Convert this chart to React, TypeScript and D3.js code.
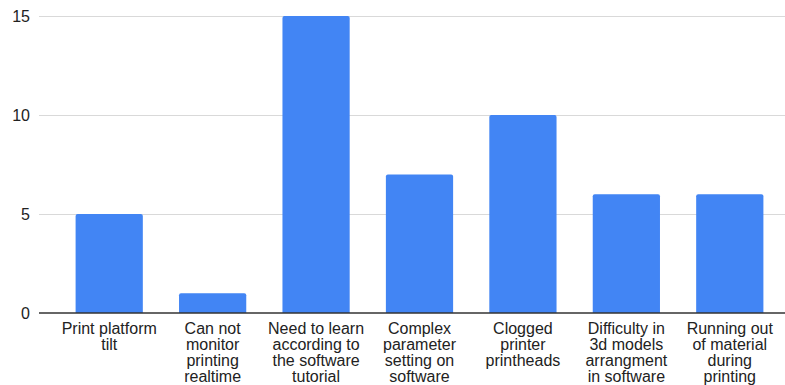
import React from "react";
import * as d3 from "d3";

const categories: string[][] = [
  ["Print platform", "tilt"],
  ["Can not", "monitor", "printing", "realtime"],
  ["Need to learn", "according to", "the software", "tutorial"],
  ["Complex", "parameter", "setting on", "software"],
  ["Clogged", "printer", "printheads"],
  ["Difficulty in", "3d models", "arrangment", "in software"],
  ["Running out", "of material", "during", "printing"],
];
const values: number[] = [5, 1, 15, 7, 10, 6, 6];
const yTicks: number[] = [0, 5, 10, 15];

const W = 785;
const H = 385;
const gridLeft = 39;
const gridRight = 785;

export default function App() {
  const y = d3.scaleLinear().domain([0, 15]).range([313, 16]);
  const x = d3
    .scaleBand<number>()
    .domain(d3.range(categories.length))
    .range([57.5, 781.5])
    .paddingInner(0.35)
    .paddingOuter(0.175);

  const font = "Arial, 'Liberation Sans', Helvetica, sans-serif";

  return (
    <svg
      width={W}
      height={H}
      style={{ position: "absolute", left: 0, top: 0, background: "#fff" }}
      fontFamily={font}
    >
      {yTicks.map((t) => (
        <g key={t}>
          {t !== 0 && (
            <line
              x1={gridLeft}
              x2={gridRight}
              y1={Math.round(y(t)) + 0.5}
              y2={Math.round(y(t)) + 0.5}
              stroke="#d9d9d9"
              strokeWidth={1.2}
            />
          )}
          <text
            x={30}
            y={y(t) + 5.5}
            textAnchor="end"
            fontSize={16}
            fill="#222"
          >
            {t}
          </text>
        </g>
      ))}
      {values.map((v, i) => (
        <path
          key={i}
          d={(() => {
            const x0 = x(i)!;
            const w = x.bandwidth();
            const top = y(v);
            const bot = y(0);
            const r = 2;
            return `M${x0},${bot}V${top + r}Q${x0},${top} ${x0 + r},${top}H${
              x0 + w - r
            }Q${x0 + w},${top} ${x0 + w},${top + r}V${bot}Z`;
          })()}
          fill="#4285f4"
        />
      ))}
      <line
        x1={gridLeft}
        x2={gridRight}
        y1={y(0)}
        y2={y(0)}
        stroke="#333"
        strokeWidth={1.3}
      />
      {categories.map((lines, i) => (
        <text
          key={i}
          x={x(i)! + x.bandwidth() / 2}
          y={333.5}
          textAnchor="middle"
          fontSize={16}
          fill="#222"
        >
          {lines.map((l, j) => (
            <tspan key={j} x={x(i)! + x.bandwidth() / 2} dy={j === 0 ? 0 : 16}>
              {l}
            </tspan>
          ))}
        </text>
      ))}
    </svg>
  );
}
